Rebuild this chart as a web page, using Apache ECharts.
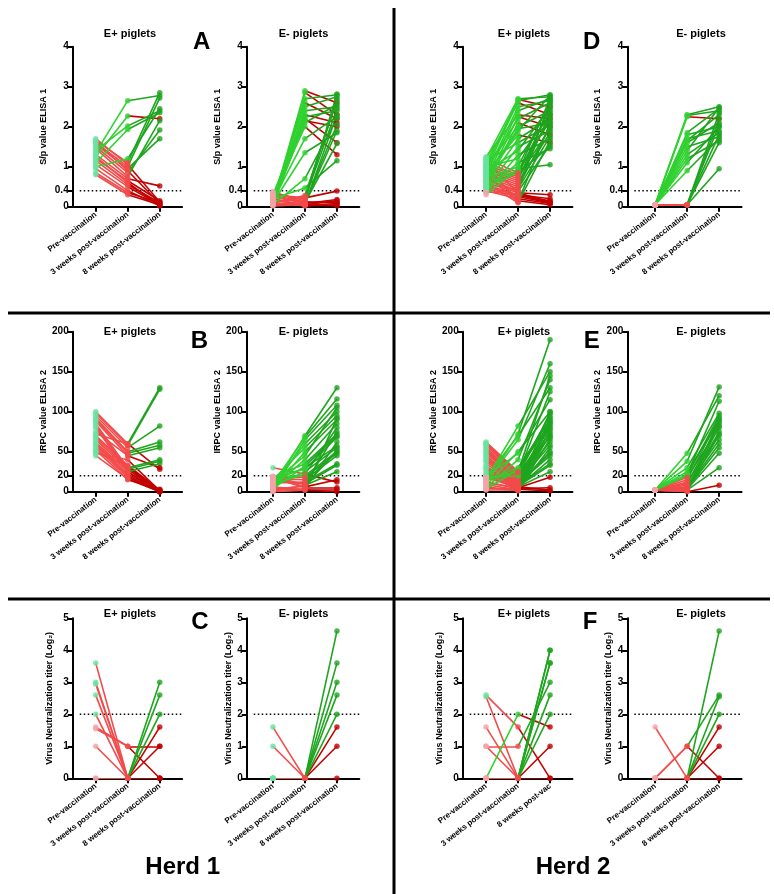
<!DOCTYPE html>
<html><head><meta charset="utf-8">
<script src="https://cdn.jsdelivr.net/npm/echarts@6/dist/echarts.min.js"></script>
<style>html,body{margin:0;padding:0;background:#fff}#c{width:774px;height:894px}</style>
</head><body><div id="c"></div>
<script>
const categories = ['Pre-vaccination','3 weeks post-vaccination','8 weeks post-vaccination'];
const categoriesF = ['Pre-vaccination','3 weeks post-vaccination','8 weeks post-vac'];
const ticksElisa1 = [0,0.4,1,2,3,4];
const ticksElisa2 = [0,20,50,100,150,200];
const ticksVN = [0,1,2,3,4,5];
const cutoffElisa1 = 0.4, cutoffElisa2 = 20, cutoffVN = 2;

// each row = one piglet: [pre-vaccination, 3 weeks, 8 weeks]
const herd1Elisa1Pos = [
[1.35,2.65,2.78],[1.25,2.27,2.20],[1.40,2.02,2.40],[1.10,1.93,2.35],[1.00,1.20,2.45],
[1.65,1.10,2.85],[1.60,1.00,2.72],[1.55,0.95,1.70],[1.50,0.85,1.92],[1.45,0.75,2.15],
[1.30,0.70,0.52],[1.20,0.65,0.15],[1.15,0.55,0.10],[1.05,0.50,0.05],[0.95,0.40,0.02],
[0.85,0.35,0.10],[0.80,0.30,0.05],[1.70,1.05,0.12],[1.62,0.90,0.08],[1.25,0.60,0.03]];
const herd1Elisa1Neg = [
[0.10,2.90,2.60],[0.05,2.85,2.30],[0.15,2.70,2.80],[0.20,2.60,2.20],[0.10,2.50,2.75],
[0.05,2.40,2.50],[0.30,2.30,2.10],[0.10,2.25,2.40],[0.20,2.20,1.60],[0.05,2.15,2.00],
[0.10,2.10,2.55],[0.25,2.00,1.30],[0.15,1.70,2.25],[0.10,1.35,1.85],[0.05,0.70,2.20],
[0.20,0.47,1.15],[0.10,0.25,2.70],[0.30,0.20,2.45],[0.35,0.15,2.82],[0.05,0.10,1.58],
[0.38,0.10,2.05],[0.20,0.05,2.30],[0.10,0.28,2.65],[0.25,0.08,1.90],[0.30,0.22,0.39],
[0.05,0.08,0.18],[0.15,0.05,0.15],[0.25,0.12,0.10],[0.10,0.02,0.05],[0.02,0.05,0.02],
[0.30,0.10,0.12],[0.08,0.03,0.08]];
const herd2Elisa1Pos = [
[1.20,2.70,2.75],[1.00,2.68,2.50],[0.90,2.65,2.80],[1.10,2.60,2.30],[0.80,2.50,2.65],
[0.70,2.40,2.70],[1.25,2.30,2.20],[0.60,2.25,2.00],[0.95,2.20,2.60],[0.50,2.10,1.80],
[1.05,2.00,2.40],[0.75,1.95,2.10],[0.65,1.90,2.78],[0.85,1.80,1.60],[0.55,1.70,2.20],
[1.15,1.60,2.05],[0.45,1.50,1.90],[0.90,1.40,2.50],[0.35,1.30,1.70],[1.00,1.20,2.30],
[0.40,1.10,1.45],[0.70,1.00,2.60],[0.30,0.95,1.05],[0.60,0.90,2.15],[0.50,0.85,1.50],
[1.20,0.85,2.70],[1.10,0.80,2.45],[1.05,0.75,1.95],[1.00,0.70,2.25],[0.95,0.65,2.55],
[0.90,0.60,1.85],[0.85,0.55,2.35],[0.80,0.50,2.00],[0.75,0.45,1.75],[0.70,0.40,2.65],
[0.65,0.38,1.55],[0.60,0.35,0.30],[0.55,0.30,0.20],[0.50,0.28,0.15],[0.45,0.25,0.10],
[0.40,0.20,0.08],[1.00,0.15,0.05],[0.80,0.12,2.10],[0.60,0.10,1.65],[1.15,0.35,0.12],
[0.38,0.30,0.10]];
const herd2Elisa1Neg = [
[0.05,2.30,2.50],[0.05,2.28,2.40],[0.05,2.25,2.20],[0.05,1.85,2.45],[0.05,1.80,2.00],
[0.05,1.70,1.90],[0.05,1.65,2.30],[0.05,1.60,2.10],[0.05,1.50,1.75],[0.05,1.40,2.48],
[0.05,1.30,1.85],[0.05,1.20,1.65],[0.05,1.10,2.00],[0.05,0.90,1.70],[0.05,0.05,0.95],
[0.05,0.05,2.35],[0.05,0.05,1.60],[0.05,0.04,2.20],[0.05,0.05,1.80],[0.05,0.05,2.05]];
const herd1Elisa2Pos = [
[100,60,130],[98,58,128],[95,55,82],[92,50,62],[90,48,58],[88,45,55],[85,30,40],[82,28,38],
[80,25,35],[75,45,30],[72,60,28],[70,33,2],[68,30,1],[65,28,0],[62,25,0],[60,22,2],
[58,20,1],[55,18,0],[52,15,3],[50,32,0],[48,40,1],[45,16,0]];
const herd1Elisa2Neg = [
[5,70,130],[10,68,116],[2,65,108],[8,60,100],[15,55,95],[3,50,90],[12,45,105],[6,40,85],
[18,35,72],[4,32,70],[14,30,57],[18,28,68],[7,25,55],[9,22,80],[30,22,12],[19,20,50],
[17,18,48],[16,15,45],[11,12,35],[13,10,33],[1,8,25],[19,6,15],[17,5,5],[2,3,3],[0,2,0],
[4,4,62],[6,2,92],[3,7,52],[19,9,75]];
const herd2Elisa2Pos = [
[15,82,150],[10,72,190],[18,70,130],[12,65,160],[8,50,100],[19,48,115],[5,40,140],[14,30,90],
[3,28,85],[16,25,95],[62,25,145],[60,22,125],[58,20,98],[55,18,80],[52,16,75],[50,15,70],
[48,14,62],[45,12,58],[42,10,50],[40,9,48],[38,8,35],[35,7,33],[32,6,25],[30,5,18],
[28,4,92],[25,3,88],[22,2,78],[20,4,5],[17,6,2],[13,3,1],[9,2,86],[6,1,66],[4,3,72],
[2,2,55],[18,20,82],[11,5,100],[60,24,68],[55,10,45],[45,6,40]];
const herd2Elisa2Neg = [
[2,48,120],[2,38,131],[2,30,98],[2,25,88],[2,22,113],[2,20,95],[2,18,80],[2,15,92],
[2,12,70],[2,10,85],[2,8,65],[2,6,75],[2,5,60],[2,4,55],[2,3,48],[2,2,30],[2,1,90],
[2,0,8],[2,1,72],[2,3,82]];
const herd1VNPos = [
[3.6,0,3],[3.0,0,2.6],[2.95,0,2],[2.6,0,0],[2.0,0,1.6],[1.6,1,0],[1.55,1,1],[1.0,0,1],[0,0,0],[0,0,0]];
const herd1VNNeg = [
[1.6,0,4.6],[1.0,0,3.6],[0,0,3],[0,0,2.6],[0,0,2],[0,0,1.6],[0,0,1],[0,0,0]];
const herd2VNPos = [
[0,2,1.6],[2.6,1.6,0],[2.55,0,4],[1.6,0,3.6],[1,1,3],[1,0,2.6],[0,0,2],[0,0,1],[0,0,0],[0,0,3.6],[0,0,4]];
const herd2VNNeg = [
[1.6,0,4.6],[0,1,2.6],[0,1,0],[0,0,2.55],[0,0,2],[0,0,1.6],[0,0,1],[0,0,0]];

const FONT = '"Liberation Sans", Arial, sans-serif';
const COL = {preHi:'#66e39f', preLo:'#f4a3a6', s1Up:'#2fd12f', s1Dn:'#f24a4a', s2Up:'#1ea51e', s2Dn:'#c20000'};
const ROWS = [46.7, 331.7, 618.3];
const COLS = [
  {x:72.7, xmin:-0.72, tx:130, ng:25, ng3:19},
  {x:246.7, xmin:-0.82, tx:303.5, ng:25, ng3:14},
  {x:462.7, xmin:-0.73, tx:524, ng:25, ng3:19},
  {x:627.3, xmin:-0.87, tx:701, ng:25, ng3:14}];
const UNIT = 32, XMAX = 2.7, H = 160;

const rowDefs = [
  {ticks:ticksElisa1, max:4, cut:cutoffElisa1, name:'S/p value ELISA 1', sets:[herd1Elisa1Pos, herd1Elisa1Neg, herd2Elisa1Pos, herd2Elisa1Neg]},
  {ticks:ticksElisa2, max:200, cut:cutoffElisa2, name:'IRPC value ELISA 2', sets:[herd1Elisa2Pos, herd1Elisa2Neg, herd2Elisa2Pos, herd2Elisa2Neg]},
  {ticks:ticksVN, max:5, cut:cutoffVN, name:'Virus Neutralization titer (Log\u2082)', sets:[herd1VNPos, herd1VNNeg, herd2VNPos, herd2VNNeg]}];

const grid=[], xAxis=[], yAxis=[], series=[], graphic=[];
const axisCol = {color:'#000', width:2};
let gi = 0;
rowDefs.forEach((rd, r) => {
  rd.sets.forEach((data, ci) => {
    const c = COLS[ci], top = ROWS[r];
    const cats = (r === 2 && ci === 2) ? categoriesF : categories;
    const preAllHigh = (r === 2 && ci === 1);
    grid.push({left:c.x, top:top, width:(XMAX - c.xmin) * UNIT, height:H, outerBoundsMode:'none', containLabel:false});
    xAxis.push({type:'value', gridIndex:gi, min:c.xmin, max:XMAX,
      axisLine:{show:true, onZero:false, lineStyle:axisCol},
      axisTick:{show:true, customValues:[0,1,2], length:5, lineStyle:axisCol},
      axisLabel:{show:true, customValues:[0,1,2], formatter:v => cats[Math.round(v)] || '', rotate:38, margin:7,
        color:'#000', fontSize:8, fontWeight:'bold', fontFamily:FONT},
      splitLine:{show:false}});
    yAxis.push({type:'value', gridIndex:gi, min:0, max:rd.max, name:rd.name, nameLocation:'middle',
      nameGap:(r === 2 ? c.ng3 : c.ng),
      nameTextStyle:{color:'#000', fontSize:9, fontWeight:'bold', fontFamily:FONT},
      axisLine:{show:true, onZero:false, lineStyle:axisCol},
      axisTick:{show:true, customValues:rd.ticks, length:5, lineStyle:axisCol},
      axisLabel:{show:true, customValues:rd.ticks, margin:4, color:'#000', fontSize:10, fontWeight:'bold', fontFamily:FONT},
      splitLine:{show:false}});
    const cut = rd.cut;
    const up = (a, b) => b > a && b >= cut;
    series.push({type:'line', xAxisIndex:gi, yAxisIndex:gi, data:[[c.xmin + 0.22, cut],[XMAX, cut]], symbol:'none',
      lineStyle:{type:[1.5, 2.5], color:'#000', width:1.5}, z:1, silent:true});
    const seg = {s1Dn:[], s1Up:[], s2Dn:[], s2Up:[]};
    const pts = [];
    data.forEach(p => {
      const u1 = up(p[0], p[1]), u2 = up(p[1], p[2]);
      seg[u1 ? 's1Up' : 's1Dn'].push({coords:[[0, p[0]], [1, p[1]]]});
      seg[u2 ? 's2Up' : 's2Dn'].push({coords:[[1, p[1]], [2, p[2]]]});
      pts.push({value:[0, p[0]], itemStyle:{color:(preAllHigh || p[0] >= cut) ? COL.preHi : COL.preLo}});
      pts.push({value:[1, p[1]], itemStyle:{color:u1 ? COL.s1Up : COL.s1Dn}});
      pts.push({value:[2, p[2]], itemStyle:{color:u2 ? COL.s2Up : COL.s2Dn}});
    });
    ['s1Dn','s1Up','s2Dn','s2Up'].forEach((k, j) => {
      series.push({type:'lines', coordinateSystem:'cartesian2d', xAxisIndex:gi, yAxisIndex:gi, data:seg[k],
        lineStyle:{color:COL[k], width:1.6, opacity:1, curveness:0}, z:2 + j * 0.01, silent:true});
    });
    series.push({type:'scatter', xAxisIndex:gi, yAxisIndex:gi, symbol:'circle', symbolSize:5.5, data:pts, z:3, silent:true});
    const tY = [34.3, 332, 614.3][r];
    graphic.push({type:'text', x:c.tx, y:tY, style:{text:(ci % 2 === 0 ? 'E+ piglets' : 'E- piglets'),
      font:'bold 11px ' + FONT, fill:'#000', textAlign:'center', textVerticalAlign:'middle'}});
    gi++;
  });
});

[['A',201.7,42.7],['D',591.7,42.7],['B',199.3,341.7],['E',591.7,341.7],['C',200,622.7],['F',590,622.7]].forEach(l => {
  graphic.push({type:'text', x:l[1], y:l[2], style:{text:l[0], font:'bold 24px ' + FONT, fill:'#000', textAlign:'center', textVerticalAlign:'middle'}});
});
[['Herd 1',182.7,867],['Herd 2',573,867]].forEach(l => {
  graphic.push({type:'text', x:l[1], y:l[2], style:{text:l[0], font:'bold 24px ' + FONT, fill:'#000', textAlign:'center', textVerticalAlign:'middle'}});
});
const div = (x1,y1,x2,y2) => graphic.push({type:'line', shape:{x1,y1,x2,y2}, style:{stroke:'#000', lineWidth:3}, silent:true});
div(394, 8, 394, 894);
div(8, 313, 394, 313);
div(394, 313, 770, 313);
div(8, 599, 394, 599);
div(394, 599, 770, 599);

const chart = echarts.init(document.getElementById('c'), null, {renderer:'canvas'});
chart.setOption({animation:false, backgroundColor:'#fff', grid, xAxis, yAxis, series, graphic});
</script></body></html>
